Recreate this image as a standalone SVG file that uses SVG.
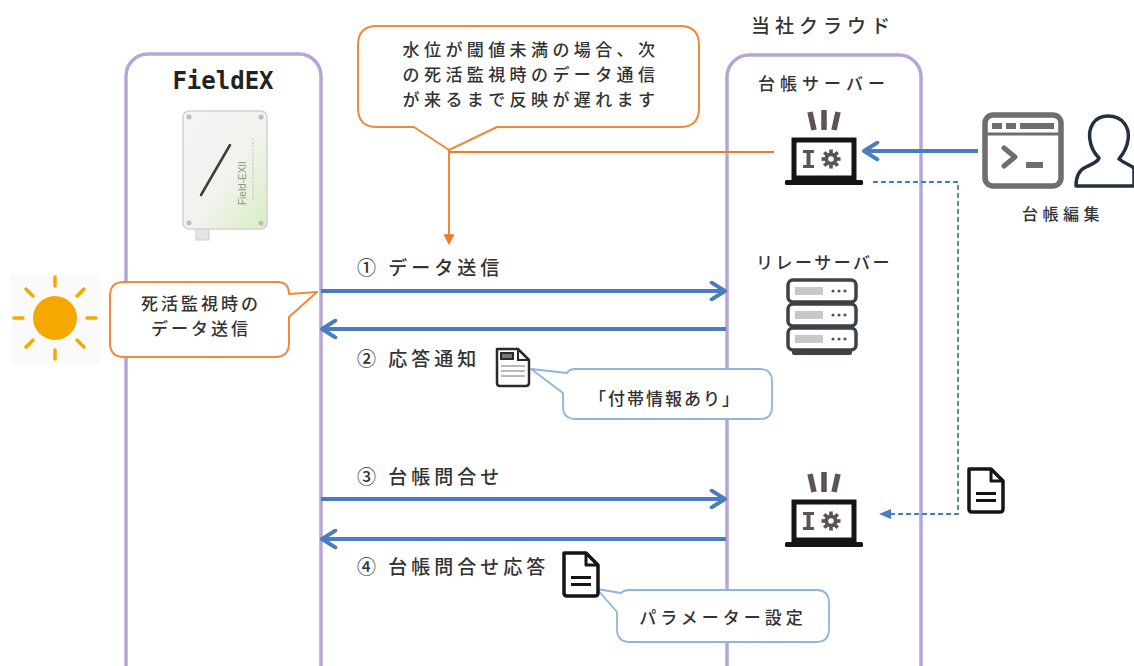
<svg xmlns="http://www.w3.org/2000/svg" width="1134" height="666" viewBox="0 0 1134 666">
  <style>
    .lane { fill: none; stroke: #b6a6d6; stroke-width: 3.5; }
    .t { font-family: "Noto Sans CJK JP", "Noto Sans", sans-serif; fill: #333333; font-weight: 500; }
    .msg { font-size: 19px; letter-spacing: 4px; }
    .callO { fill: #ffffff; stroke: #ee8a3c; stroke-width: 2; stroke-linejoin: round; }
    .callB { fill: #ffffff; stroke: #8fb4de; stroke-width: 1.8; stroke-linejoin: round; }
    .flow { stroke: #4a7dbf; stroke-width: 4; fill: none; }
    .ink { fill: #151515; }
    .ray { stroke: #5d5452; stroke-width: 5.5; stroke-linecap: butt; }
  </style>
  <defs>
    <marker id="openHead" viewBox="0 0 12 12" refX="10" refY="6" markerWidth="5" markerHeight="5" orient="auto" markerUnits="strokeWidth">
      <path d="M2,1 L10,6 L2,11" fill="none" stroke="#4a7dbf" stroke-width="2.4" stroke-linecap="round" stroke-linejoin="round"/>
    </marker>
    <marker id="dashHead" viewBox="0 0 10 10" refX="9" refY="5" markerWidth="7" markerHeight="7" orient="auto" markerUnits="strokeWidth">
      <path d="M0,1 L10,5 L0,9 Z" fill="#4a7dbf"/>
    </marker>
    <marker id="orangeHead" viewBox="0 0 10 10" refX="8" refY="5" markerWidth="6" markerHeight="6" orient="auto" markerUnits="strokeWidth">
      <path d="M0,0 L10,5 L0,10 Z" fill="#ee7d22"/>
    </marker>
    <linearGradient id="caseFill" x1="0" y1="0" x2="1" y2="1">
      <stop offset="0" stop-color="#f4f4f4"/>
      <stop offset="0.55" stop-color="#f1f3ee"/>
      <stop offset="1" stop-color="#d9edc2"/>
    </linearGradient>
    <!-- laptop with gear, used for the ledger server -->
    <g id="laptopGear">
      <line class="ray" x1="-14" y1="-38" x2="-10" y2="-20"/>
      <line class="ray" x1="0" y1="-40" x2="0" y2="-20"/>
      <line class="ray" x1="14" y1="-38" x2="10" y2="-20"/>
      <rect x="-30" y="-10" width="60" height="38" fill="#fff" stroke="#151515" stroke-width="5"/>
      <rect x="-39" y="30" width="78" height="5" rx="1.5" class="ink"/>
      <!-- wrench -->
      <path d="M-21,0 h11 v3 h-3.5 v12 h3.5 v3 h-11 v-3 h3.5 v-12 h-3.5 z" fill="#5d5452"/>
      <!-- gear -->
      <g transform="translate(7,9)" fill="#5d5452">
        <circle r="6.5"/>
        <rect x="-1.8" y="-9.5" width="3.6" height="19"/>
        <rect x="-9.5" y="-1.8" width="19" height="3.6"/>
        <rect x="-1.8" y="-9.5" width="3.6" height="19" transform="rotate(45)"/>
        <rect x="-1.8" y="-9.5" width="3.6" height="19" transform="rotate(-45)"/>
        <circle r="2.8" fill="#fff"/>
      </g>
    </g>
    <!-- plain document with two lines -->
    <g id="docPlain">
      <path d="M2,2 H24 L36,14 V42 Q36,45 33,45 H5 Q2,45 2,42 Z" fill="#fff" stroke="#151515" stroke-width="3.5" stroke-linejoin="round"/>
      <path d="M24,2 V14 H36" fill="none" stroke="#151515" stroke-width="3" stroke-linejoin="round"/>
      <rect x="9" y="25" width="20" height="3" fill="#151515"/>
      <rect x="9" y="32" width="20" height="3" fill="#151515"/>
    </g>
  </defs>

  <rect width="1134" height="666" fill="#ffffff"/>

  <!-- swimlanes -->
  <g id="fieldex">
    <rect class="lane" x="126" y="54" width="195" height="640" rx="22"/>
    <text x="223" y="89" text-anchor="middle" font-family="'DejaVu Sans Mono', 'Liberation Mono', monospace" font-weight="bold" font-size="24" fill="#222">FieldEX</text>
    <!-- logger unit -->
    <rect x="196" y="226" width="13" height="14" fill="#e4e4e4" stroke="#cfcfcf" stroke-width="1"/>
    <rect x="183" y="111" width="84" height="118" rx="6" fill="url(#caseFill)" stroke="#d2d2d2" stroke-width="1.5"/>
    <circle cx="189" cy="117" r="2.5" fill="#bdbdbd"/>
    <circle cx="261" cy="117" r="2.5" fill="#bdbdbd"/>
    <circle cx="189" cy="223" r="2.5" fill="#bdbdbd"/>
    <circle cx="261" cy="223" r="2.5" fill="#bdbdbd"/>
    <line x1="201" y1="195" x2="230" y2="145" stroke="#3c3c3c" stroke-width="2.5" stroke-linecap="round"/>
    <text transform="translate(246,205) rotate(-90)" font-family="'Liberation Sans', sans-serif" font-size="10" fill="#8e9a86">Field-EXII</text>
    <line x1="253" y1="200" x2="253" y2="138" stroke="#b9c7ae" stroke-width="1" stroke-dasharray="2 1.5"/>
  </g>

  <g id="cloud">
    <text class="t" x="823" y="33" text-anchor="middle" font-size="19" letter-spacing="5">当社クラウド</text>
    <rect class="lane" x="727" y="55" width="194" height="640" rx="22"/>
  </g>

  <!-- ledger server -->
  <g id="ledger-server">
    <text class="t" x="824" y="90" text-anchor="middle" font-size="17" letter-spacing="5">台帳サーバー</text>
    <use href="#laptopGear" x="824" y="150"/>
  </g>

  <!-- relay server -->
  <g id="relay-server">
    <text class="t" x="824" y="269" text-anchor="middle" font-size="17" letter-spacing="2.5">リレーサーバー</text>
    <g stroke="#3d4248" stroke-width="3.5" fill="#fff">
      <rect x="788" y="280" width="68" height="22" rx="5"/>
      <rect x="788" y="304" width="68" height="22" rx="5"/>
      <rect x="788" y="328" width="68" height="22" rx="5"/>
    </g>
    <rect x="792" y="350" width="60" height="5" rx="2" fill="#3d4248"/>
    <g fill="#c8c8c8">
      <rect x="795" y="287" width="28" height="8"/>
      <rect x="795" y="311" width="28" height="8"/>
      <rect x="795" y="335" width="28" height="8"/>
    </g>
    <g fill="#555">
      <circle cx="833" cy="291" r="1.6"/><circle cx="839" cy="291" r="1.6"/><circle cx="845" cy="291" r="1.6"/>
      <circle cx="833" cy="315" r="1.6"/><circle cx="839" cy="315" r="1.6"/><circle cx="845" cy="315" r="1.6"/>
      <circle cx="833" cy="339" r="1.6"/><circle cx="839" cy="339" r="1.6"/><circle cx="845" cy="339" r="1.6"/>
    </g>
  </g>

  <!-- ledger server, second appearance -->
  <g id="ledger-server-2">
    <use href="#laptopGear" x="824" y="512"/>
  </g>

  <!-- ledger editing console and operator -->
  <g id="ledger-edit">
    <rect x="985" y="115" width="76" height="71" rx="8" fill="#fff" stroke="#6e6e6e" stroke-width="5.5"/>
    <rect x="992" y="123" width="10" height="6" fill="#6e6e6e"/>
    <rect x="1006" y="123" width="10" height="6" fill="#6e6e6e"/>
    <rect x="1020" y="123" width="34" height="6" fill="#6e6e6e"/>
    <line x1="987" y1="134" x2="1059" y2="134" stroke="#6e6e6e" stroke-width="3"/>
    <path d="M1004,148 L1015,157 L1004,166" fill="none" stroke="#6e6e6e" stroke-width="5" stroke-linecap="round" stroke-linejoin="round"/>
    <rect x="1026" y="162" width="17" height="6" fill="#6e6e6e"/>
    <!-- operator -->
    <path d="M1108,116 C1094,116 1088,128 1090,140 C1091,148 1095,154 1099,158 C1098,162 1092,164 1086,167 C1079,170 1076,176 1076,186 L1134,186 L1134,168 C1130,165 1124,163 1119,159 C1123,154 1127,148 1128,140 C1130,128 1123,116 1108,116 Z" fill="#fff" stroke="#24303e" stroke-width="3.5" stroke-linejoin="round"/>
    <text class="t" x="1063" y="220" text-anchor="middle" font-size="16" letter-spacing="4.5">台帳編集</text>
  </g>

  <!-- sun -->
  <g id="sun">
    <rect x="11" y="274" width="89" height="90" fill="#fafafa"/>
    <circle cx="55" cy="318" r="22" fill="#f7a800"/>
    <g stroke="#f7a800" stroke-width="3.5" stroke-linecap="round">
      <line x1="55" y1="277" x2="55" y2="286"/>
      <line x1="55" y1="350" x2="55" y2="359"/>
      <line x1="14" y1="318" x2="23" y2="318"/>
      <line x1="87" y1="318" x2="96" y2="318"/>
      <line x1="26" y1="289" x2="33" y2="296"/>
      <line x1="77" y1="340" x2="84" y2="347"/>
      <line x1="84" y1="289" x2="77" y2="296"/>
      <line x1="33" y1="340" x2="26" y2="347"/>
    </g>
  </g>

  <!-- callouts -->
  <g id="note-heartbeat">
    <path class="callO" d="M124,282 H277 Q289,282 289,294 L317,292 L289,317 V343 Q289,357 275,357 H124 Q110,357 110,343 V296 Q110,282 124,282 Z"/>
    <text class="t" x="201" y="310" text-anchor="middle" font-size="17" letter-spacing="3">死活監視時の</text>
    <text class="t" x="201" y="335" text-anchor="middle" font-size="17" letter-spacing="3">データ送信</text>
  </g>

  <g id="note-delay">
    <path class="callO" d="M377,26 H680 Q699,26 699,45 V108 Q699,127 680,127 H497 L449,150 L414,127 H377 Q358,127 358,108 V45 Q358,26 377,26 Z"/>
    <g class="t" font-size="17" letter-spacing="4.4" text-anchor="middle">
      <text x="531" y="56">水位が閾値未満の場合、次</text>
      <text x="531" y="81">の死活監視時のデータ通信</text>
      <text x="531" y="106">が来るまで反映が遅れます</text>
    </g>
  </g>

  <g id="note-extra">
    <path class="callB" d="M576,369 H760 Q772,369 772,381 V407 Q772,419 760,419 H576 Q563,419 563,407 V393 L531,369 L567,373 Q569,369 576,369 Z"/>
    <text class="t" x="665" y="405" text-anchor="middle" font-size="17" letter-spacing="2">「付帯情報あり」</text>
  </g>

  <g id="note-param">
    <path class="callB" d="M630,590 H816 Q829,590 829,603 V629 Q829,642 816,642 H630 Q617,642 617,629 V612 L597,589 L621,593 Q624,590 630,590 Z"/>
    <text class="t" x="723" y="624" text-anchor="middle" font-size="17" letter-spacing="4">パラメーター設定</text>
  </g>

  <!-- documents carried with the messages -->
  <g id="doc-notice">
    <path d="M497,349 H518 L529,360 V383 Q529,386 526,386 H500 Q497,386 497,383 Z" fill="#fff" stroke="#2a2a2a" stroke-width="2.5" stroke-linejoin="round"/>
    <path d="M518,349 V360 H529" fill="none" stroke="#2a2a2a" stroke-width="2"/>
    <rect x="500" y="352" width="14" height="8" fill="#2a2a2a"/>
    <rect x="502" y="354" width="10" height="4" fill="#777"/>
    <g stroke="#8a8a8a" stroke-width="1.2">
      <line x1="501" y1="366" x2="525" y2="366"/>
      <line x1="501" y1="371" x2="525" y2="371"/>
      <line x1="501" y1="376" x2="525" y2="376"/>
    </g>
  </g>
  <g id="doc-response">
    <use href="#docPlain" x="562" y="551"/>
  </g>
  <g id="doc-sync">
    <use href="#docPlain" x="967" y="467"/>
  </g>

  <!-- connectors -->
  <g id="connectors">
    <!-- delay note leader -->
    <line x1="449" y1="152" x2="774" y2="152" stroke="#ee7d22" stroke-width="1.8"/>
    <line x1="449" y1="150" x2="449" y2="243" stroke="#ee7d22" stroke-width="1.8" marker-end="url(#orangeHead)"/>

    <!-- message flows -->
    <line class="flow" x1="321" y1="291" x2="725" y2="291" marker-end="url(#openHead)"/>
    <line class="flow" x1="726" y1="329" x2="322" y2="329" marker-end="url(#openHead)"/>
    <line class="flow" x1="321" y1="499" x2="725" y2="499" marker-end="url(#openHead)"/>
    <line class="flow" x1="726" y1="539" x2="322" y2="539" marker-end="url(#openHead)"/>
    <line class="flow" x1="978" y1="151" x2="864" y2="151" marker-end="url(#openHead)"/>

    <!-- ledger sync (dashed) -->
    <path d="M873,182 H958 V514 H880" fill="none" stroke="#4a7dbf" stroke-width="1.8" stroke-dasharray="5 3" marker-end="url(#dashHead)"/>

    <!-- message labels -->
    <text class="t msg" x="357" y="275">① データ送信</text>
    <text class="t msg" x="357" y="366">② 応答通知</text>
    <text class="t msg" x="357" y="484">③ 台帳問合せ</text>
    <text class="t msg" x="357" y="574">④ 台帳問合せ応答</text>
  </g>
</svg>
